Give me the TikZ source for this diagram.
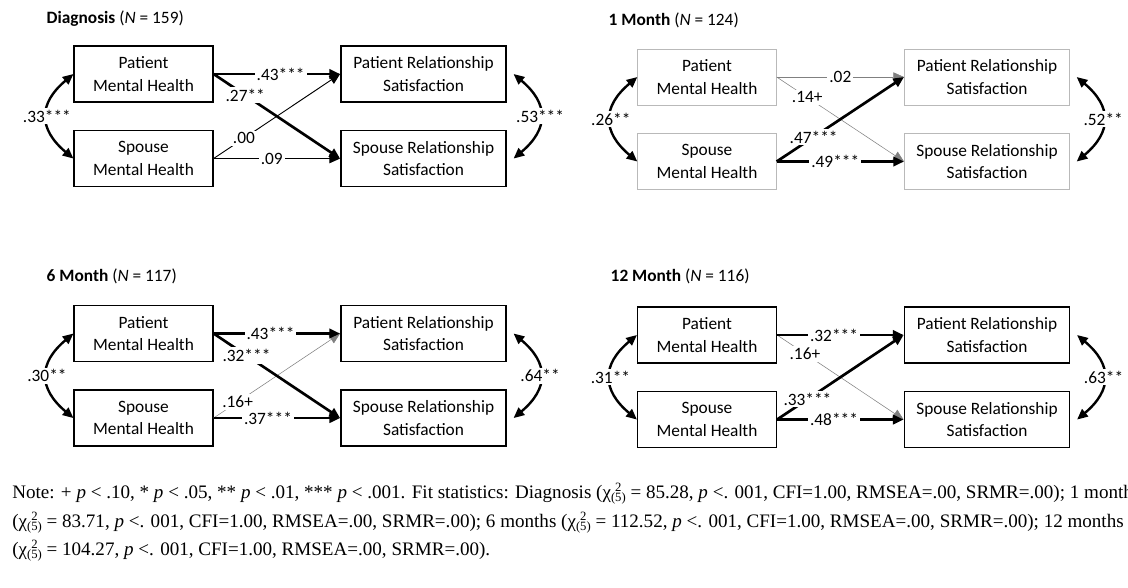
\documentclass[tikz,border=0pt]{standalone}
\usepackage{fontspec}
\setmainfont{Carlito}
\newfontfamily\notefont{Liberation Serif}
\usetikzlibrary{arrows.meta}

\newcommand\chitwo{χ\rlap{\raisebox{0.75ex}{\fontsize{9.5}{9.5}\selectfont\phantom{(}2}}\raisebox{-0.45ex}{\fontsize{9.5}{9.5}\selectfont(5)}}

\tikzset{
  varbox/.style = {draw, line width=1.1pt, minimum height=42pt, inner sep=0pt, align=center, font=\fontsize{13}{16.9}\selectfont},
  mhbox/.style = {varbox, minimum width=104pt},
  rsbox/.style = {varbox, minimum width=124pt},
  greybox/.style = {draw=gray!55, line width=0.5pt},
  coef/.style = {fill=white, inner sep=1.5pt, font=\fontsize{13}{13}\selectfont},
  strongpath/.style = {-{Triangle[length=8pt,width=7pt]}, line width=2pt},
  weakpath/.style = {-{Triangle[length=8pt,width=7pt]}, line width=0.7pt},
  faintpath/.style = {-{Triangle[length=8pt,width=7pt]}, line width=0.4pt, draw=gray},
  covpath/.style = {{Triangle[length=8pt,width=7pt]}-{Triangle[length=8pt,width=7pt]}, line width=1.8pt},
  ttl/.style = {anchor=west, font=\fontsize{13}{13}\selectfont},
  note/.style = {anchor=base west, inner sep=0pt, font=\notefont\fontsize{14.3}{14.3}\selectfont},
}

\begin{document}
\begin{tikzpicture}[x=0.75pt, y=-0.75pt, node distance=63.4pt]
    \useasboundingbox (0,0) rectangle (1128,587);

    \node[ttl] (t1) at (42,19) {\textbf{Diagnosis} (\textit{N} = 159)};
    \node[mhbox] (pm1) at (143.5,74) {Patient\\Mental Health};
    \node[mhbox] (sm1) [below of=pm1] {Spouse\\Mental Health};
    \node[rsbox] (pr1) [node distance=210pt, right of=pm1] {Patient Relationship\\Satisfaction};
    \node[rsbox] (sr1) [below of=pr1] {Spouse Relationship\\Satisfaction};
    \draw[weakpath] (sm1.east) -- node[coef, pos=0.24] {.00} (pr1.west);
    \draw[weakpath] (sm1.east) -- node[coef, pos=0.46] {.09} (sr1.west);
    \draw[strongpath] (pm1.east) -- node[coef, pos=0.53] {.43***} (pr1.west);
    \draw[strongpath] (pm1.east) -- node[coef, pos=0.25] {.27**} (sr1.west);
    \draw[covpath] (pm1.west) to [bend right=50, looseness=1.4] node[coef] {.33***} (sm1.west);
    \draw[covpath] ([xshift=5pt]pr1.east) to [bend left=50, looseness=1.4] node[coef] {.53***} ([xshift=5pt]sr1.east);

    \node[ttl] (t2) at (604,20) {\textbf{1 Month} (\textit{N} = 124)};
    \node[mhbox, greybox] (pm2) at (707,77) {Patient\\Mental Health};
    \node[mhbox, greybox] (sm2) [below of=pm2] {Spouse\\Mental Health};
    \node[rsbox, greybox] (pr2) [node distance=210pt, right of=pm2] {Patient Relationship\\Satisfaction};
    \node[rsbox, greybox] (sr2) [below of=pr2] {Spouse Relationship\\Satisfaction};
    \draw[faintpath] (pm2.east) -- node[coef, pos=0.5] {.02} (pr2.west);
    \draw[faintpath] (pm2.east) -- node[coef, pos=0.24] {.14+} (sr2.west);
    \draw[strongpath] (sm2.east) -- node[coef, pos=0.29] {.47***} (pr2.west);
    \draw[strongpath] (sm2.east) -- node[coef, pos=0.46] {.49***} (sr2.west);
    \draw[covpath] (pm2.west) to [bend right=50, looseness=1.4] node[coef] {.26**} (sm2.west);
    \draw[covpath] ([xshift=5pt]pr2.east) to [bend left=50, looseness=1.4] node[coef] {.52**} ([xshift=5pt]sr2.east);

    \node[ttl] (t3) at (42,276) {\textbf{6 Month} (\textit{N} = 117)};
    \node[mhbox] (pm3) at (143.5,333.5) {Patient\\Mental Health};
    \node[mhbox] (sm3) [below of=pm3] {Spouse\\Mental Health};
    \node[rsbox] (pr3) [node distance=210pt, right of=pm3] {Patient Relationship\\Satisfaction};
    \node[rsbox] (sr3) [below of=pr3] {Spouse Relationship\\Satisfaction};
    \draw[faintpath] (sm3.east) -- node[coef, pos=0.19] {.16+} (pr3.west);
    \draw[strongpath] (pm3.east) -- node[coef, pos=0.45] {.43***} (pr3.west);
    \draw[strongpath] (pm3.east) -- node[coef, pos=0.26] {.32***} (sr3.west);
    \draw[strongpath] (sm3.east) -- node[coef, pos=0.43] {.37***} (sr3.west);
    \draw[covpath] (pm3.west) to [bend right=50, looseness=1.4] node[coef] {.30**} (sm3.west);
    \draw[covpath] ([xshift=5pt]pr3.east) to [bend left=50, looseness=1.4] node[coef] {.64**} ([xshift=5pt]sr3.east);

    \node[ttl] (t4) at (606,276) {\textbf{12 Month} (\textit{N} = 116)};
    \node[mhbox] (pm4) at (707,335) {Patient\\Mental Health};
    \node[mhbox] (sm4) [below of=pm4] {Spouse\\Mental Health};
    \node[rsbox] (pr4) [node distance=210pt, right of=pm4] {Patient Relationship\\Satisfaction};
    \node[rsbox] (sr4) [below of=pr4] {Spouse Relationship\\Satisfaction};
    \draw[faintpath] (pm4.east) -- node[coef, pos=0.22] {.16+} (sr4.west);
    \draw[strongpath] (pm4.east) -- node[coef, pos=0.45] {.32***} (pr4.west);
    \draw[strongpath] (sm4.east) -- node[coef, pos=0.24] {.33***} (pr4.west);
    \draw[strongpath] (sm4.east) -- node[coef, pos=0.45] {.48***} (sr4.west);
    \draw[covpath] (pm4.west) to [bend right=50, looseness=1.4] node[coef] {.31**} (sm4.west);
    \draw[covpath] ([xshift=5pt]pr4.east) to [bend left=50, looseness=1.4] node[coef] {.63**} ([xshift=5pt]sr4.east);

    \node[note] (n1) at (12,498) {Note: + \textit{p} < .10, * \textit{p} < .05, ** \textit{p} < .01, *** \textit{p} < .001. Fit statistics: Diagnosis (\chitwo{} = 85.28, \textit{p} <. 001, CFI=1.00, RMSEA=.00, SRMR=.00); 1 month};
    \node[note] (n2) at (12,527) {(\chitwo{} = 83.71, \textit{p} <. 001, CFI=1.00, RMSEA=.00, SRMR=.00); 6 months (\chitwo{} = 112.52, \textit{p} <. 001, CFI=1.00, RMSEA=.00, SRMR=.00); 12 months};
    \node[note] (n3) at (12,555) {(\chitwo{} = 104.27, \textit{p} <. 001, CFI=1.00, RMSEA=.00, SRMR=.00).};
\end{tikzpicture}
\end{document}
